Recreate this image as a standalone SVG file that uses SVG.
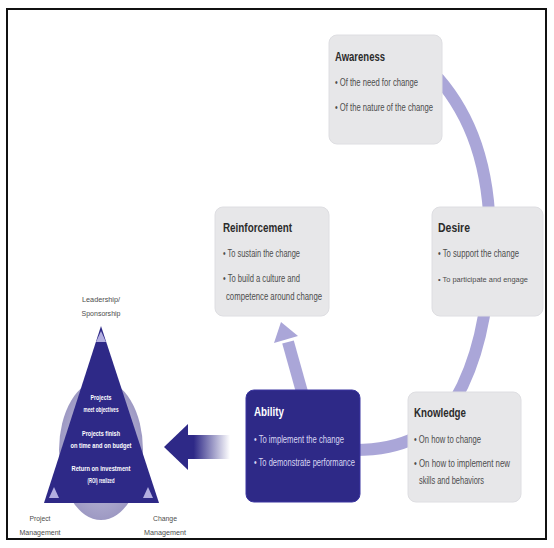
<svg xmlns="http://www.w3.org/2000/svg" width="554" height="548" viewBox="0 0 554 548">
<style>
.box{fill:#e7e7e9;stroke:#dedee2;stroke-width:1}
.abox{fill:#2e2987;stroke:#3a35a0;stroke-width:1}
.t{font-family:"Liberation Sans",Arial,sans-serif;font-weight:bold;font-size:13px;fill:#2b2b2b}
.b{font-family:"Liberation Sans",Arial,sans-serif;font-size:10px;fill:#4d4d4d}
.tw{font-family:"Liberation Sans",Arial,sans-serif;font-weight:bold;font-size:13px;fill:#ffffff}
.bw{font-family:"Liberation Sans",Arial,sans-serif;font-size:10px;fill:#d8d6f2}
.tri{font-family:"Liberation Sans",Arial,sans-serif;font-weight:bold;font-size:7px;fill:#ffffff;text-anchor:middle}
.lab{font-family:"Liberation Sans",Arial,sans-serif;font-size:8px;fill:#4d4d4d;text-anchor:middle}
.ring{fill:none;stroke:#aaa6d8;stroke-width:12}
</style>
<defs>
<linearGradient id="fade" x1="164" y1="0" x2="230" y2="0" gradientUnits="userSpaceOnUse">
<stop offset="0" stop-color="#2e2987"/>
<stop offset="0.45" stop-color="#2e2987"/>
<stop offset="1" stop-color="#2e2987" stop-opacity="0"/>
</linearGradient>
<radialGradient id="disc" cx="0.5" cy="0.5" r="0.5">
<stop offset="0.6" stop-color="#b4b1d2"/>
<stop offset="1" stop-color="#9d99c3"/>
</radialGradient>
</defs>
<rect x="0" y="0" width="554" height="548" fill="#ffffff"/>
<rect x="7" y="9" width="539" height="530" fill="none" stroke="#111" stroke-width="2"/>

<g id="connectors">
<path class="ring" d="M 438 78 C 470 115, 490 165, 490 240 C 490 310, 478 360, 455 400 C 435 435, 400 450, 355 450"/>
<path class="ring" d="M 302 392 L 288 342"/>
<polygon points="281,322 298,336 274,343" fill="#aaa6d8"/>
<path d="M 187 435 L 230 435 L 230 459 L 187 459 Z" fill="url(#fade)"/>
<polygon points="164,447 188,424 188,470" fill="#2e2987"/>
</g>

<g id="awareness">
<rect class="box" x="329" y="35" width="113" height="109" rx="8"/>
<text class="t" x="335" y="61" textLength="50" lengthAdjust="spacingAndGlyphs">Awareness</text>
<text class="b" x="335" y="86" textLength="83" lengthAdjust="spacingAndGlyphs">• Of the need for change</text>
<text class="b" x="335" y="111" textLength="98" lengthAdjust="spacingAndGlyphs">• Of the nature of the change</text>
</g>

<g id="desire">
<rect class="box" x="432" y="207" width="111" height="109" rx="8"/>
<text class="t" x="438" y="232" textLength="32" lengthAdjust="spacingAndGlyphs">Desire</text>
<text class="b" x="438" y="257" textLength="81" lengthAdjust="spacingAndGlyphs">• To support the change</text>
<text class="b" x="438" y="282" style="font-size:8px" textLength="90" lengthAdjust="spacingAndGlyphs">• To participate and engage</text>
</g>

<g id="reinforcement">
<rect class="box" x="215" y="207" width="114" height="109" rx="8"/>
<text class="t" x="223" y="232" textLength="69" lengthAdjust="spacingAndGlyphs">Reinforcement</text>
<text class="b" x="223" y="257" textLength="77" lengthAdjust="spacingAndGlyphs">• To sustain the change</text>
<text class="b" x="223" y="282" textLength="77" lengthAdjust="spacingAndGlyphs">• To build a culture and</text>
<text class="b" x="226" y="300" textLength="96" lengthAdjust="spacingAndGlyphs">competence around change</text>
</g>

<g id="knowledge">
<rect class="box" x="408" y="392" width="113" height="110" rx="8"/>
<text class="t" x="414" y="417" textLength="52" lengthAdjust="spacingAndGlyphs">Knowledge</text>
<text class="b" x="414" y="443" textLength="67" lengthAdjust="spacingAndGlyphs">• On how to change</text>
<text class="b" x="414" y="467" textLength="96" lengthAdjust="spacingAndGlyphs">• On how to implement new</text>
<text class="b" x="419" y="484" textLength="65" lengthAdjust="spacingAndGlyphs">skills and behaviors</text>
</g>

<g id="ability">
<rect class="abox" x="246" y="390" width="114" height="112" rx="8"/>
<text class="tw" x="254" y="416" textLength="30" lengthAdjust="spacingAndGlyphs">Ability</text>
<text class="bw" x="254" y="443" textLength="90" lengthAdjust="spacingAndGlyphs">• To implement the change</text>
<text class="bw" x="254" y="466" textLength="101" lengthAdjust="spacingAndGlyphs">• To demonstrate performance</text>
</g>

<g id="triangle">
<ellipse cx="101" cy="450" rx="42" ry="70" fill="url(#disc)"/>
<polygon points="101,326 44,503 159,503" fill="#2e2987"/>
<polygon points="101,331 96,342 106,342" fill="#b3afe0"/>
<polygon points="49,498 54,487 59,498" fill="#b3afe0"/>
<polygon points="143,498 148,487 153,498" fill="#b3afe0"/>
<text class="tri" x="101" y="400" textLength="21" lengthAdjust="spacingAndGlyphs">Projects</text>
<text class="tri" x="101" y="412" textLength="35" lengthAdjust="spacingAndGlyphs">meet objectives</text>
<text class="tri" x="101" y="436" textLength="38" lengthAdjust="spacingAndGlyphs">Projects finish</text>
<text class="tri" x="101" y="448" textLength="61" lengthAdjust="spacingAndGlyphs">on time and on budget</text>
<text class="tri" x="101" y="471" textLength="59" lengthAdjust="spacingAndGlyphs">Return on investment</text>
<text class="tri" x="101" y="483" textLength="27" lengthAdjust="spacingAndGlyphs">(ROI) realized</text>
</g>

<g id="labels">
<text class="lab" x="101" y="302" textLength="38" lengthAdjust="spacingAndGlyphs">Leadership/</text>
<text class="lab" x="101" y="316" textLength="39" lengthAdjust="spacingAndGlyphs">Sponsorship</text>
<text class="lab" x="40" y="521" textLength="21" lengthAdjust="spacingAndGlyphs">Project</text>
<text class="lab" x="40" y="535" textLength="41" lengthAdjust="spacingAndGlyphs">Management</text>
<text class="lab" x="165" y="521" textLength="24" lengthAdjust="spacingAndGlyphs">Change</text>
<text class="lab" x="165" y="535" textLength="42" lengthAdjust="spacingAndGlyphs">Management</text>
</g>
</svg>
